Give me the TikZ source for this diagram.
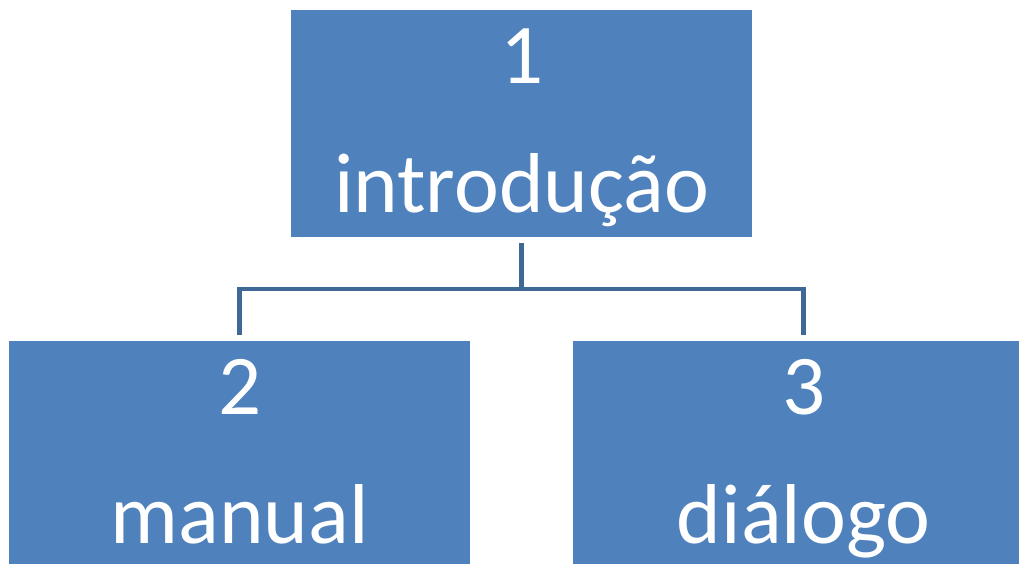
\documentclass[tikz,border=0pt]{standalone}
\usepackage{fontspec}
\setmainfont{Carlito}
\definecolor{boxblue}{RGB}{79,129,189}
\definecolor{connblue}{RGB}{64,104,150}
\begin{document}
\begin{tikzpicture}[x=1pt,y=-1pt,
  orgbox/.style={fill=boxblue, draw=none, inner sep=0pt, anchor=north west,
    minimum width=461pt, minimum height=227pt, align=center,
    text height=202pt, text depth=25pt, text=white,
    font=\fontsize{85}{129}\selectfont},
  conn/.style={draw=connblue, line width=4.5pt, line join=miter}]
\useasboundingbox (0,0) rectangle (1019,563);
\node[orgbox] (top) at (291,10) {1\\introdução};
\node[orgbox] (left) at (9,341) {2\\manual};
\node[orgbox] (right) at (573,341) {3\\diálogo};
\coordinate (bar) at (0,289);
\draw[conn] ([yshift=-6pt]top.south) -- (top.south |- bar);
\draw[conn] ([yshift=6pt]left.north) -- (left.north |- bar) -- (right.north |- bar) -- ([yshift=6pt]right.north);
\end{tikzpicture}
\end{document}
